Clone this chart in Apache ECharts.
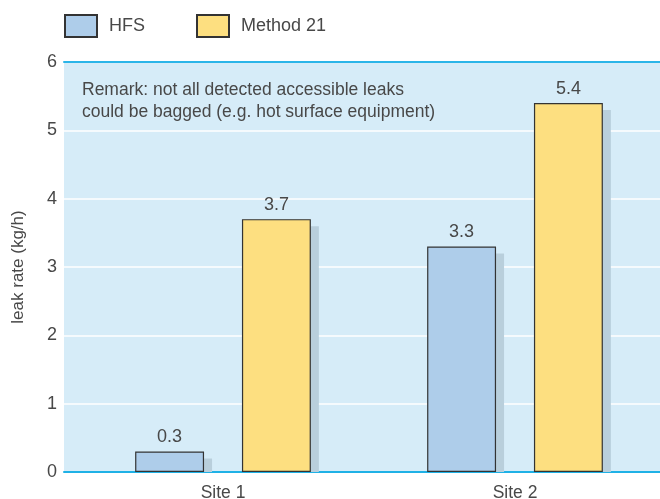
<!DOCTYPE html>
<html>
<head>
<meta charset="utf-8">
<script src="https://cdn.jsdelivr.net/npm/echarts@6/dist/echarts.min.js"></script>
<style>
  html, body { margin: 0; padding: 0; background: #ffffff; }
  #chart { width: 660px; height: 499px; }
</style>
</head>
<body>
<div id="chart"></div>
<script>
const categories = ['Site 1', 'Site 2'];
const seriesNames = ['HFS', 'Method 21'];
const hfsValues = [0.3, 3.3];
const method21Values = [3.7, 5.4];
const yMin = 0, yMax = 6, yStep = 1;
const remarkText = 'Remark: not all detected accessible leaks\ncould be bagged (e.g. hot surface equipment)';
const yAxisTitle = 'leak rate (kg/h)';

const FONT = '"Liberation Sans", Arial, sans-serif';
const TXT = '#484848';
const BAR_W_FRAC = 0.236;
const BAR_GAP_FRAC = 0.55;

function shadowRenderer(side) {
  return function (params, api) {
    const idx = api.value(0);
    const v = api.value(1);
    const top = api.coord([idx, v]);
    const base = api.coord([idx, 0]);
    const cw = api.size([1, 0])[0];
    const bw = cw * BAR_W_FRAC;
    const gap = bw * BAR_GAP_FRAC;
    const off = side * (bw + gap) / 2;
    const x = top[0] + off - bw / 2 + 8;
    const y = top[1] + 7;
    return {
      type: 'rect',
      shape: { x: x, y: y, width: bw, height: Math.max(0, base[1] - y) },
      style: { fill: '#b9cfdc' }
    };
  };
}

const chart = echarts.init(document.getElementById('chart'), null, { renderer: 'canvas' });
chart.setOption({
  animation: false,
  backgroundColor: '#ffffff',
  textStyle: { fontFamily: FONT },
  legend: {
    data: seriesNames,
    left: 64, top: 14, padding: 0,
    itemWidth: 32, itemHeight: 22, itemGap: 51,
    icon: 'rect',
    textStyle: { fontSize: 18, color: TXT, fontFamily: FONT, padding: [0, 0, 0, 7] }
  },
  graphic: [{
    type: 'text',
    left: 82, top: 79,
    z: 10,
    style: { text: remarkText, fontSize: 17.5, lineHeight: 22, fill: TXT, fontFamily: FONT }
  }],
  grid: [
    { left: 64, right: 0, top: 62, bottom: 27, show: true, backgroundColor: '#d6ecf8', borderWidth: 0,
      containLabel: false, outerBoundsMode: 'none' },
    { left: 77, width: 584, top: 62, bottom: 27, containLabel: false, outerBoundsMode: 'none' }
  ],
  xAxis: [
    { gridIndex: 0, type: 'category', data: categories, position: 'bottom',
      axisLine: { show: true, lineStyle: { color: '#1fb1e6', width: 2 } },
      axisTick: { show: false }, axisLabel: { show: false }, splitLine: { show: false } },
    { gridIndex: 0, type: 'category', data: categories, position: 'top',
      axisLine: { show: true, lineStyle: { color: '#2bb5e8', width: 2 } },
      axisTick: { show: false }, axisLabel: { show: false }, splitLine: { show: false } },
    { gridIndex: 1, type: 'category', data: categories, position: 'bottom',
      axisLine: { show: false }, axisTick: { show: false },
      axisLabel: { fontSize: 17.5, color: TXT, margin: 12, fontFamily: FONT } }
  ],
  yAxis: [
    { gridIndex: 0, type: 'value', min: yMin, max: yMax, interval: yStep,
      name: yAxisTitle, nameLocation: 'middle', nameRotate: 90, nameGap: 37,
      nameTextStyle: { fontSize: 17, color: TXT, fontFamily: FONT },
      axisLine: { show: false }, axisTick: { show: false },
      axisLabel: { fontSize: 18, color: TXT, margin: 7, fontFamily: FONT },
      splitLine: { show: true, lineStyle: { color: '#ffffff', width: 1.5 } } },
    { gridIndex: 1, type: 'value', min: yMin, max: yMax, interval: yStep, show: false,
      splitLine: { show: false } }
  ],
  series: [
    { type: 'custom', name: 'hfsShadow', xAxisIndex: 2, yAxisIndex: 1, z: 1,
      renderItem: shadowRenderer(-1), data: hfsValues.map((v, i) => [i, v]), silent: true },
    { type: 'custom', name: 'm21Shadow', xAxisIndex: 2, yAxisIndex: 1, z: 1,
      renderItem: shadowRenderer(1), data: method21Values.map((v, i) => [i, v]), silent: true },
    { type: 'bar', name: seriesNames[0], xAxisIndex: 2, yAxisIndex: 1, z: 3,
      data: hfsValues, barWidth: (BAR_W_FRAC * 100) + '%', barGap: (BAR_GAP_FRAC * 100) + '%',
      itemStyle: { color: '#aecdea', borderColor: '#333333', borderWidth: 1.2 },
      label: { show: true, position: 'top', distance: 5, fontSize: 18, color: TXT, fontFamily: FONT } },
    { type: 'bar', name: seriesNames[1], xAxisIndex: 2, yAxisIndex: 1, z: 3,
      data: method21Values, barWidth: (BAR_W_FRAC * 100) + '%', barGap: (BAR_GAP_FRAC * 100) + '%',
      itemStyle: { color: '#fddf80', borderColor: '#333333', borderWidth: 1.2 },
      label: { show: true, position: 'top', distance: 5, fontSize: 18, color: TXT, fontFamily: FONT } }
  ]
});
</script>
</body>
</html>
